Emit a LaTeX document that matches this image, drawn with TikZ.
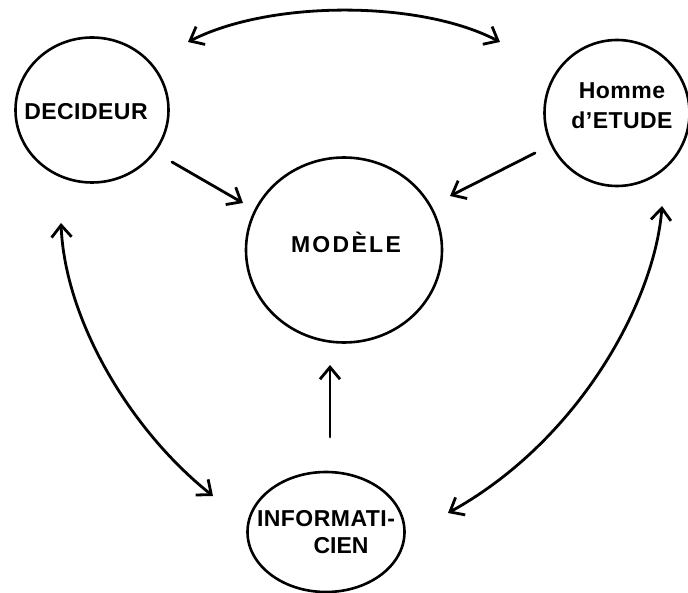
\documentclass[tikz,border=0pt]{standalone}
\usepackage{fontspec}
\setmainfont{Liberation Sans}
\usetikzlibrary{shapes.geometric,arrows.meta}
\tikzset{
  bubble/.style={ellipse,draw,line width=2.6pt,inner sep=0pt},
  lbl/.style={font=\fontsize{23}{27}\selectfont\bfseries,align=center,inner sep=0pt},
  tip/.tip={Straight Barb[length=12pt,width=20pt,line width=2.8pt]},
  conn/.style={line width=2.8pt,line cap=round,-tip},
  dconn/.style={line width=2.8pt,line cap=round,tip-tip}
}
\begin{document}
\begin{tikzpicture}[x=1pt,y=-1pt]
\useasboundingbox (0,0) rectangle (688,593);
% shapes
\node[bubble,minimum width=153pt,minimum height=145pt] (dec) at (92,110) {};
\node[bubble,minimum width=145pt,minimum height=146pt] (hom) at (617,113) {};
\node[bubble,minimum width=196pt,minimum height=185pt] (mod) at (344,250) {};
\node[bubble,minimum width=157pt,minimum height=120pt] (inf) at (326,532) {};
% labels
\node[lbl] (tdec) at (86,112) {\addfontfeature{LetterSpace=2}DECIDEUR};
\node[lbl] (thom) at (622,106) {\addfontfeature{LetterSpace=2}Homme\\[3pt]\addfontfeature{LetterSpace=2}d'ETUDE};
\node[lbl] (tmod) at (346,242) {\addfontfeature{LetterSpace=10}MODÈLE};
\node[lbl] (tinf) at (326,532) {\addfontfeature{LetterSpace=2}INFORMATI-\\[0pt]\hspace*{30pt}CIEN};
% connector ends
\coordinate (a1) at (188,42);
\coordinate (a2) at (500,42);
\coordinate (b1) at (172,162);
\coordinate (b2) at (243,203);
\coordinate (c1) at (535,153);
\coordinate (c2) at (450,196);
\coordinate (d1) at (330,437);
\coordinate (d2) at (330,365);
\coordinate (e1) at (61,223);
\coordinate (e2) at (213,496);
\coordinate (f1) at (662,206);
\coordinate (f2) at (448,513);
% connectors
\draw[dconn] (a1) .. controls (270,0) and (420,0) .. (a2);
\draw[conn] (b1) -- (b2);
\draw[conn] (c1) -- (c2);
\draw[conn] (d1) -- (d2);
\draw[dconn] (e1) .. controls (65,320) and (130,430) .. (e2);
\draw[dconn] (f1) .. controls (655,300) and (580,440) .. (f2);
\end{tikzpicture}
\end{document}
